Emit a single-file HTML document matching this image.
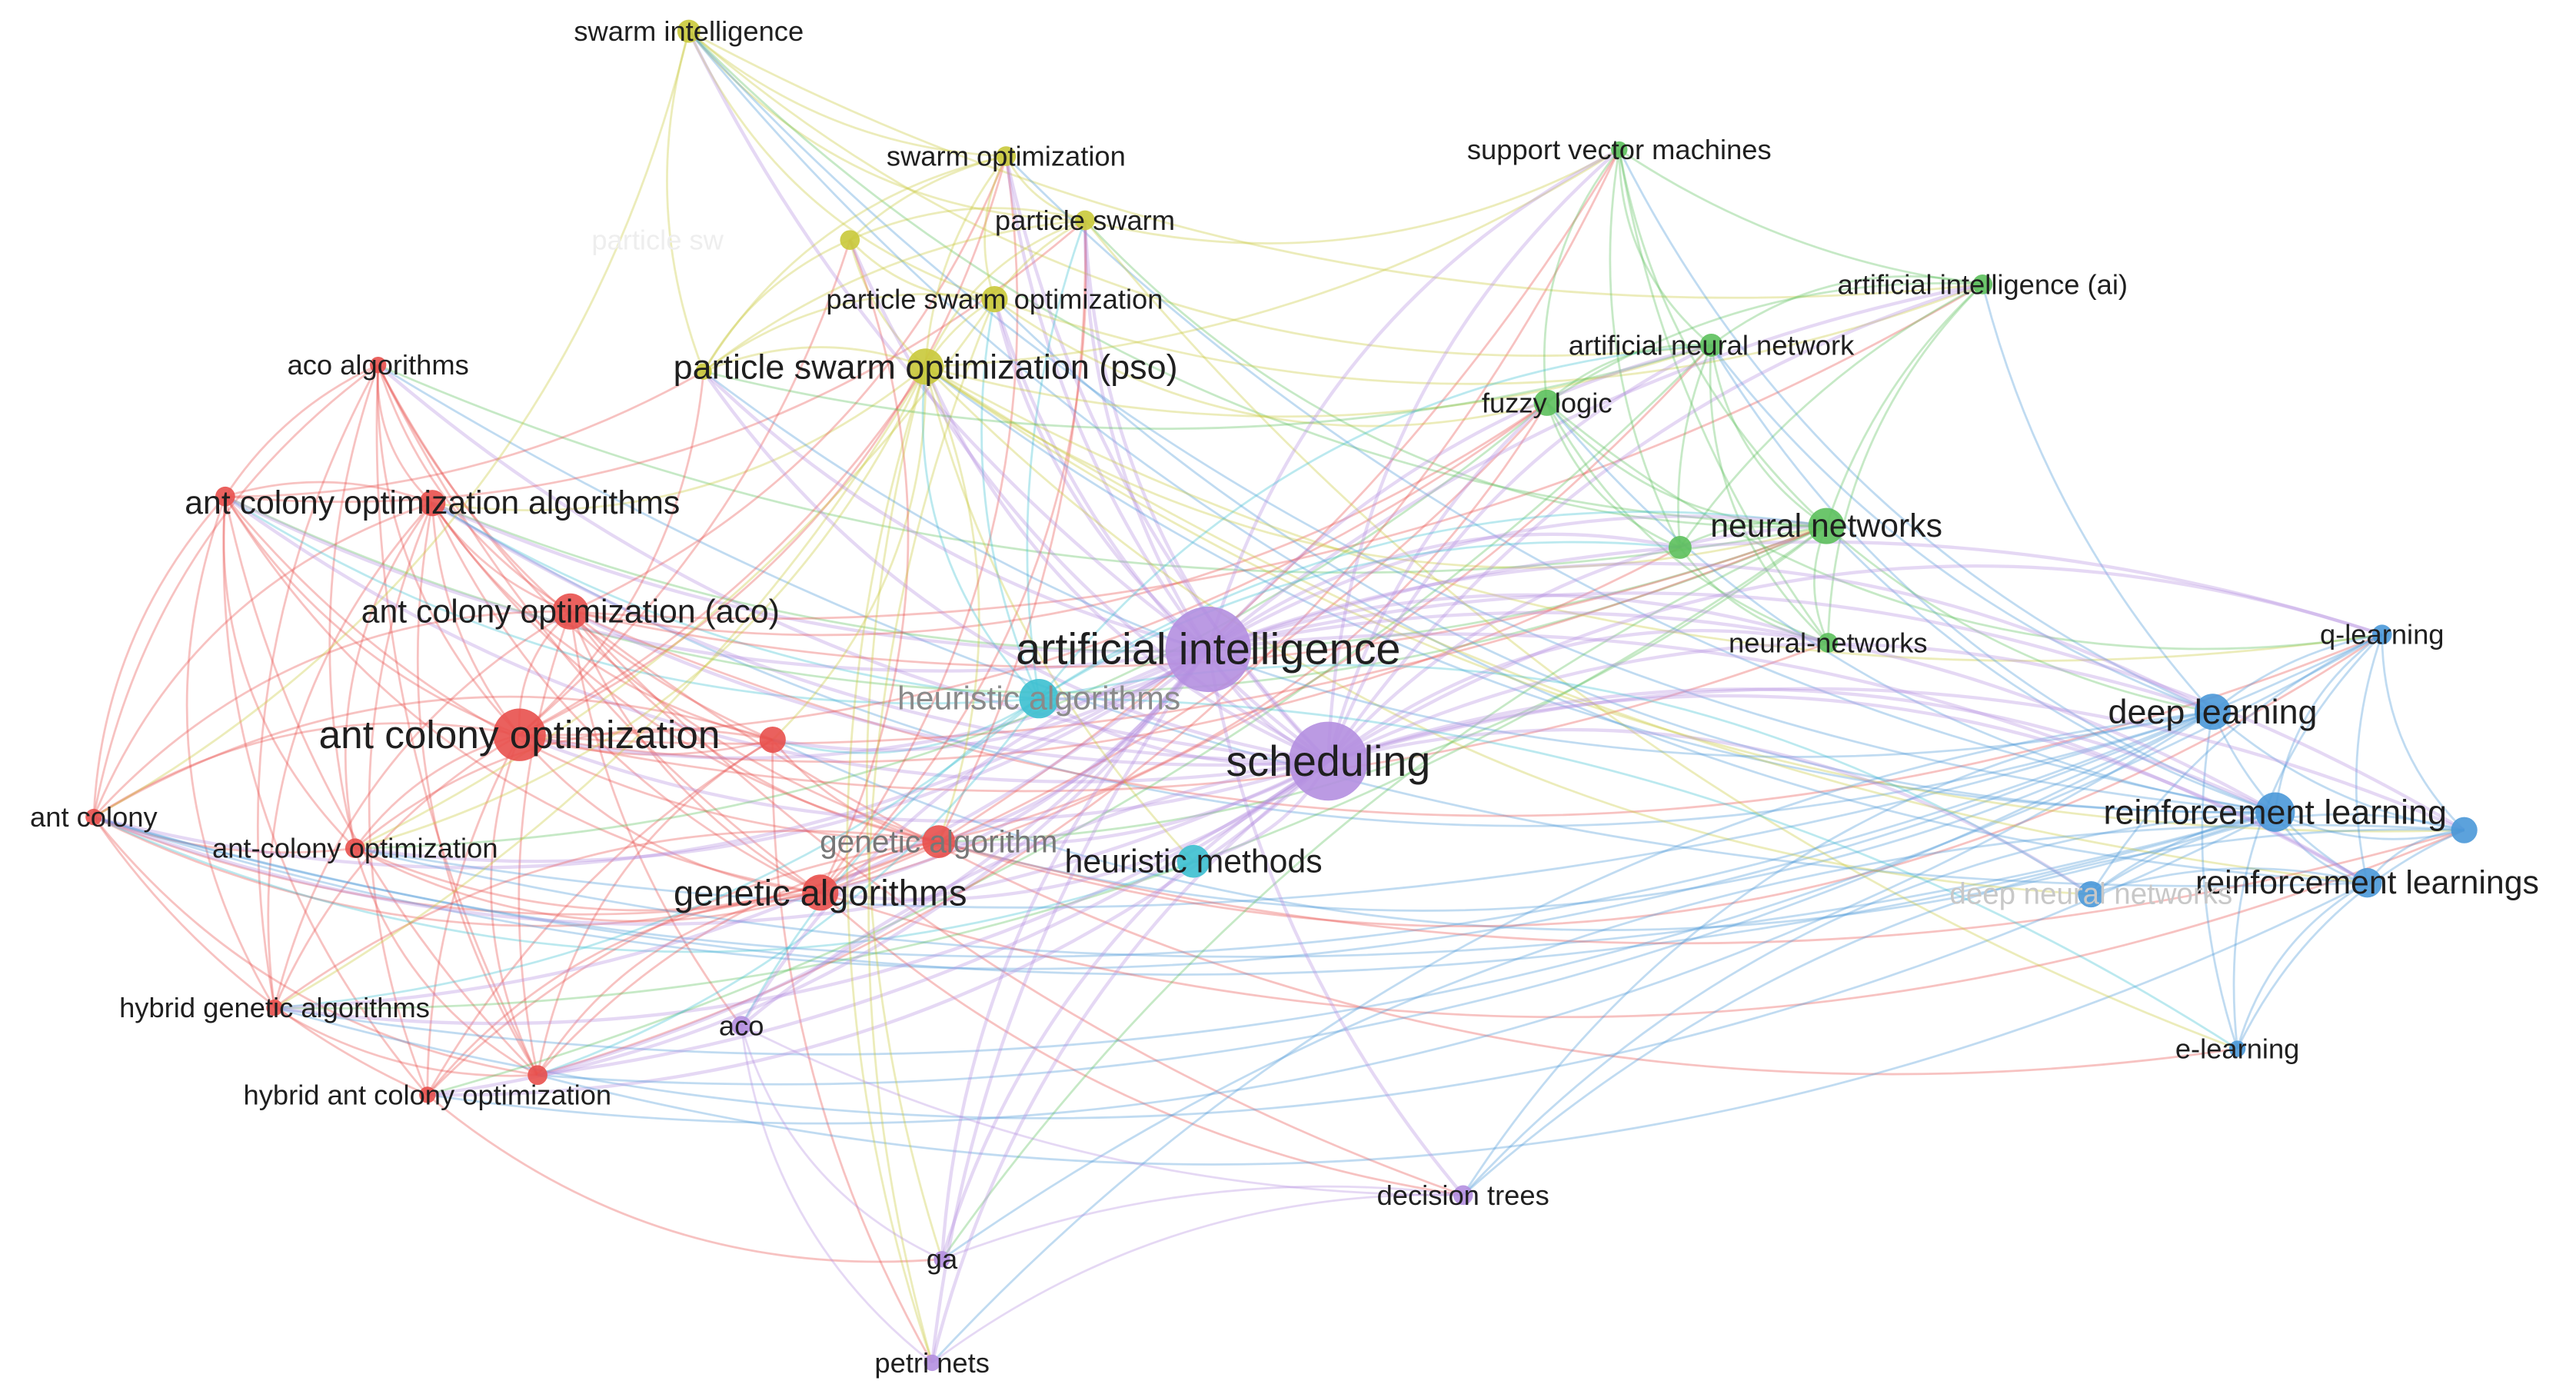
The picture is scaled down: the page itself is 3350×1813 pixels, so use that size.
<!DOCTYPE html>
<html><head><meta charset="utf-8"><style>
html,body{margin:0;padding:0;background:#fff;}
svg{display:block}
text{font-family:"Liberation Sans",sans-serif;fill:#1f1f1f;text-anchor:middle;dominant-baseline:central}
</style></head><body>
<svg id="s" width="3350" height="1813" viewBox="0 0 1567 848" preserveAspectRatio="none" xmlns="http://www.w3.org/2000/svg">
<g id="e" fill="none"></g><g id="n"></g><g id="t"></g>
</svg>
<script>
var C={r:"#e8504c",y:"#c9c93a",g:"#5cc05c",b:"#4a98d8",c:"#3cc0d0",p:"#b48fe0"};
var N=[
["aco algorithms",230,222,5,"r",17],
["ant colony optimization algorithms",263,306,8,"r",20],
["",137,302,6,"r",0],
["ant colony optimization (aco)",347,372,11,"r",20],
["ant colony optimization",316,447,16,"r",24],
["",470,450,8,"r",0],
["ant colony",57,497,5,"r",17],
["ant-colony optimization",216,516,6,"r",17],
["genetic algorithm",571,512,10,"r",19,"#777"],
["genetic algorithms",499,543,11,"r",22],
["hybrid genetic algorithms",167,613,5,"r",17],
["hybrid ant colony optimization",260,666,5,"r",17],
["",327,654,6,"r",0],
["swarm intelligence",419,19,7,"y",17],
["swarm optimization",612,95,6,"y",17],
["particle swarm",660,134,6,"y",17],
["",517,146,6,"y",0],
["particle swarm optimization",605,182,8,"y",17],
["particle swarm optimization (pso)",563,223,11,"y",21],
["",428,226,5,"y",0],
["support vector machines",985,91,5,"g",17],
["artificial intelligence (ai)",1206,173,6,"g",17],
["artificial neural network",1041,210,7,"g",17],
["fuzzy logic",941,245,8,"g",17],
["neural networks",1111,320,11,"g",20],
["",1022,333,7,"g",0],
["neural-networks",1112,391,6,"g",17],
["q-learning",1449,386,6,"b",17],
["deep learning",1346,433,11,"b",21],
["reinforcement learning",1384,494,12,"b",21],
["",1499,505,8,"b",0],
["reinforcement learnings",1440,537,9,"b",20],
["deep neural networks",1272,544,8,"b",18,"#c8c8c8"],
["e-learning",1361,638,5,"b",17],
["heuristic algorithms",632,425,12,"c",20,"#8a8a8a"],
["heuristic methods",726,524,10,"c",20],
["artificial intelligence",735,395,26,"p",27],
["scheduling",808,463,24,"p",26],
["aco",451,624,6,"p",17],
["decision trees",890,727,6,"p",17],
["ga",573,766,5,"p",17],
["petri nets",567,829,5,"p",17]
];
var seed=7;function R(){seed=(seed*16807)%2147483647;return seed/2147483647;}
var eg="",ng="",tg="";
for(var i=0;i<N.length;i++)for(var j=i+1;j<N.length;j++){
 var a=N[i],b=N[j],p;
 var big=Math.max(a[3],b[3]);
 if(a[4]==b[4])p=0.85;else if(big>=20)p=0.7;else if(big>=11)p=0.35;else p=0.07;
 if(R()>p)continue;
 var src=a[3]>=b[3]?a:b;
 var dx=b[1]-a[1],dy=b[2]-a[2];
 var k=0.18+(R()-0.5)*0.12;
 var cx=(a[1]+b[1])/2-dy*k,cy=(a[2]+b[2])/2+dx*k;
 var w=big>=20?2:1.3;
 eg+='<path d="M'+a[1]+' '+a[2]+' Q'+cx.toFixed(1)+' '+cy.toFixed(1)+' '+b[1]+' '+b[2]+'" stroke="'+C[src[4]]+'" stroke-opacity="0.35" stroke-width="'+w+'"/>';
}
for(var i=0;i<N.length;i++){var a=N[i];
 ng+='<circle cx="'+a[1]+'" cy="'+a[2]+'" r="'+a[3]+'" fill="'+C[a[4]]+'" fill-opacity="0.9"/>';
 if(a[0])tg+='<text x="'+a[1]+'" y="'+a[2]+'" font-size="'+a[5]+'"'+(a[6]?' style="fill:'+a[6]+'"':'')+'>'+a[0]+'</text>';
}
tg+='<text x="400" y="146" font-size="17" style="fill:#eee">particle sw</text>';
document.getElementById("e").innerHTML=eg;
document.getElementById("n").innerHTML=ng;
document.getElementById("t").innerHTML=tg;
</script>
</body></html>
